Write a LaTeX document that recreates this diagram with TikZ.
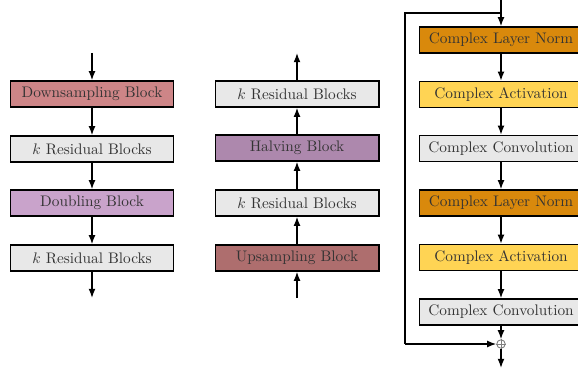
\documentclass[tikz,border=0pt]{standalone}
\usetikzlibrary{arrows.meta}
\definecolor{cdown}{HTML}{CD8587}
\definecolor{cdoub}{HTML}{C9A3CB}
\definecolor{chalv}{HTML}{AD88AD}
\definecolor{cup}{HTML}{AE6E6E}
\definecolor{cnorm}{HTML}{D9890C}
\definecolor{cact}{HTML}{FFD454}
\definecolor{cgray}{HTML}{E8E8E8}
\begin{document}
\begin{tikzpicture}[x=0.654pt,y=-0.654pt,
  blk/.style={draw=black,line width=0.9pt,minimum width=107pt,minimum height=17pt,inner sep=0pt,font=\color{black!80}},
  arr/.style={line width=0.9pt,-{Latex[length=6pt,width=4.5pt]}},
  ln/.style={line width=0.9pt}]
\clip (0,0) rectangle (578,372);
% column 1
\node[blk,fill=cdown] (d1) at (92,94) {Downsampling Block};
\node[blk,fill=cgray] (d2) at (92,149) {$k$ Residual Blocks};
\node[blk,fill=cdoub] (d3) at (92,203) {Doubling Block};
\node[blk,fill=cgray] (d4) at (92,258) {$k$ Residual Blocks};
\coordinate (din) at (92,53);
\coordinate (dout) at (92,298);
\draw[arr] (din) -- (d1);
\draw[arr] (d1) -- (d2);
\draw[arr] (d2) -- (d3);
\draw[arr] (d3) -- (d4);
\draw[arr] (d4) -- (dout);
% column 2
\node[blk,fill=cgray] (u4) at (297,94) {$k$ Residual Blocks};
\node[blk,fill=chalv] (u3) at (297,148) {Halving Block};
\node[blk,fill=cgray] (u2) at (297,203) {$k$ Residual Blocks};
\node[blk,fill=cup] (u1) at (297,258) {Upsampling Block};
\coordinate (uin) at (297,298);
\coordinate (uout) at (297,53);
\draw[arr] (uin) -- (u1);
\draw[arr] (u1) -- (u2);
\draw[arr] (u2) -- (u3);
\draw[arr] (u3) -- (u4);
\draw[arr] (u4) -- (uout);
% column 3
\node[blk,fill=cnorm] (r1) at (501,40) {Complex Layer Norm};
\node[blk,fill=cact] (r2) at (501,94.5) {Complex Activation};
\node[blk,fill=cgray] (r3) at (501,148.5) {Complex Convolution};
\node[blk,fill=cnorm] (r4) at (501,203) {Complex Layer Norm};
\node[blk,fill=cact] (r5) at (501,257.5) {Complex Activation};
\node[blk,fill=cgray] (r6) at (501,312) {Complex Convolution};
\node[circle,draw=black!50,line width=0.6pt,minimum size=5.5pt,inner sep=0pt] (plus) at (501,344) {};
\draw[black!50,line width=0.6pt] (plus.north) -- (plus.south) (plus.west) -- (plus.east);
\coordinate (rin) at (501,-2);
\coordinate (split) at (501,13);
\coordinate (skA) at (405,13);
\coordinate (skB) at (405,344);
\coordinate (rout) at (501,368);
\draw[arr] (rin) -- (r1);
\draw[ln] (split) -- (skA) -- (skB);
\draw[arr] (skB) -- (plus);
\draw[arr] (r1) -- (r2);
\draw[arr] (r2) -- (r3);
\draw[arr] (r3) -- (r4);
\draw[arr] (r4) -- (r5);
\draw[arr] (r5) -- (r6);
\draw[arr] (r6) -- (plus);
\draw[arr] (plus) -- (rout);
\end{tikzpicture}
\end{document}
